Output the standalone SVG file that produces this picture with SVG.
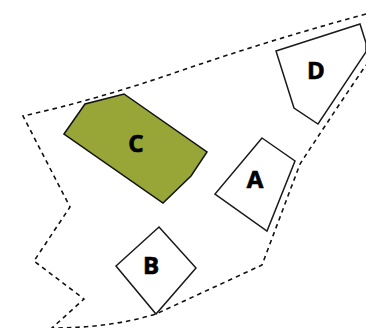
<svg xmlns="http://www.w3.org/2000/svg" width="366" height="328" viewBox="0 0 366 328">
<style>
.p{fill:#fff;stroke:#1a1a1a;stroke-width:1.5;stroke-linejoin:miter}
.c{fill:#97a637;stroke:#111;stroke-width:1.5}
.t{font-family:"Open Sans","Noto Sans",sans-serif;font-weight:700;font-size:24px;fill:#000;stroke:#000;stroke-width:.7;text-anchor:middle}
.b{fill:none;stroke:#111;stroke-width:1.6;stroke-dasharray:4.5 4}
</style>
<rect width="366" height="328" fill="#fff"/>
<g id="connectors">
<path class="b" d="M366 14Q270 40 183 70T23 116L70 207 34 261 84 299 52 328Q110 328 156 314L262 265 300 164Q332 115 366 65"/>
</g>
<g id="node-c"><polygon class="c" points="64,134 85,104 124,94 207,152 191,176 163,203"/><text class="t" x="136" y="152">C</text></g>
<g id="node-d"><polygon class="p" points="276,51 360,24 366,43 366,52 318,124 294,108"/><text class="t" x="316" y="79">D</text></g>
<g id="node-a"><polygon class="p" points="262,138 295,161 267,231 215,194"/><text class="t" x="255" y="188">A</text></g>
<g id="node-b"><polygon class="p" points="159,227 196,268 156,314 116,266"/><text class="t" x="151" y="274">B</text></g>
</svg>
